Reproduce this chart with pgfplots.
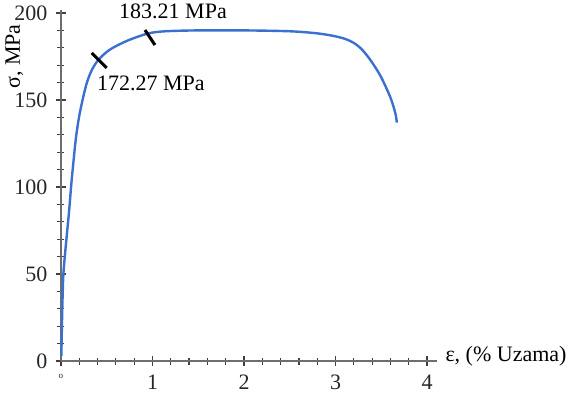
\documentclass[border=0pt]{standalone}
\usepackage{pgfplots}
\pgfplotsset{compat=1.18}
\usepackage{fontspec}
\setmainfont{Liberation Serif}
\definecolor{curveblue}{RGB}{58,112,208}
\definecolor{axgray}{RGB}{110,110,110}
\begin{document}
\fontsize{22bp}{26bp}\selectfont
\begin{tikzpicture}
\begin{axis}[
  x=91.5bp, y=1.74bp,
  xmin=0, xmax=4.11, ymin=0, ymax=202,
  axis lines=left,
  axis line style={-, axgray, line width=1.2bp},
  clip=false,
  xtick={0,1,2,3,4},
  xticklabels={{\fontsize{9bp}{9bp}\selectfont o},1,2,3,4},
  ytick={0,50,100,150,200},
  minor x tick num=4,
  minor y tick num=4,
  tick align=center,
  major tick length=10bp,
  minor tick length=7bp,
  tick style={black!75, line width=1.2bp},
  /pgf/number format/assume math mode=true,
  ticklabel style={font=\fontsize{22bp}{26bp}\selectfont, text=black!85},
  yticklabel style={anchor=east, xshift=-1bp},
  xticklabel style={anchor=north, yshift=-1bp},
]
\addplot[curveblue, line width=2.4bp, smooth, tension=0.5] coordinates {
(0.004,3) (0.01,20) (0.018,38) (0.026,50) (0.045,62) (0.07,76) (0.09,87)
(0.11,100) (0.135,114) (0.165,129) (0.20,141) (0.24,151) (0.28,159.5)
(0.33,166.5) (0.39,171.8) (0.47,176.3) (0.56,179.8) (0.73,184.2) (0.95,188.2) (1.14,189.5)
(1.5,190) (2.0,190) (2.5,189.5) (2.8,188.3) (2.98,186.8) (3.1,185.2) (3.2,182.8)
(3.28,179.5) (3.35,175.2) (3.42,170) (3.49,164) (3.55,157.5) (3.6,151.5) (3.635,146)
(3.66,141) (3.67,137)
};
\addplot[black, line width=3bp] coordinates {(0.335,177) (0.499,168.4)};
\addplot[black, line width=3bp] coordinates {(0.918,190.2) (1.027,181.6)};
\node[anchor=base west, inner sep=0pt] at (axis cs:0.393,155.7) {172.27 MPa};
\node[anchor=base west, inner sep=0pt] at (axis cs:0.634,197.1) {183.21 MPa};
\node[anchor=west, inner sep=0pt] at (axis cs:4.2,2.5) {ε, (\% Uzama)};
\node[rotate=90, anchor=center, inner sep=0pt] at (axis cs:-0.51,175) {σ, MPa};
\coordinate (O) at (axis cs:0,0);
\end{axis}
\pgfresetboundingbox
\path ([shift={(-61bp,-35bp)}]O) rectangle ++(581bp,396bp);
\end{tikzpicture}
\end{document}
